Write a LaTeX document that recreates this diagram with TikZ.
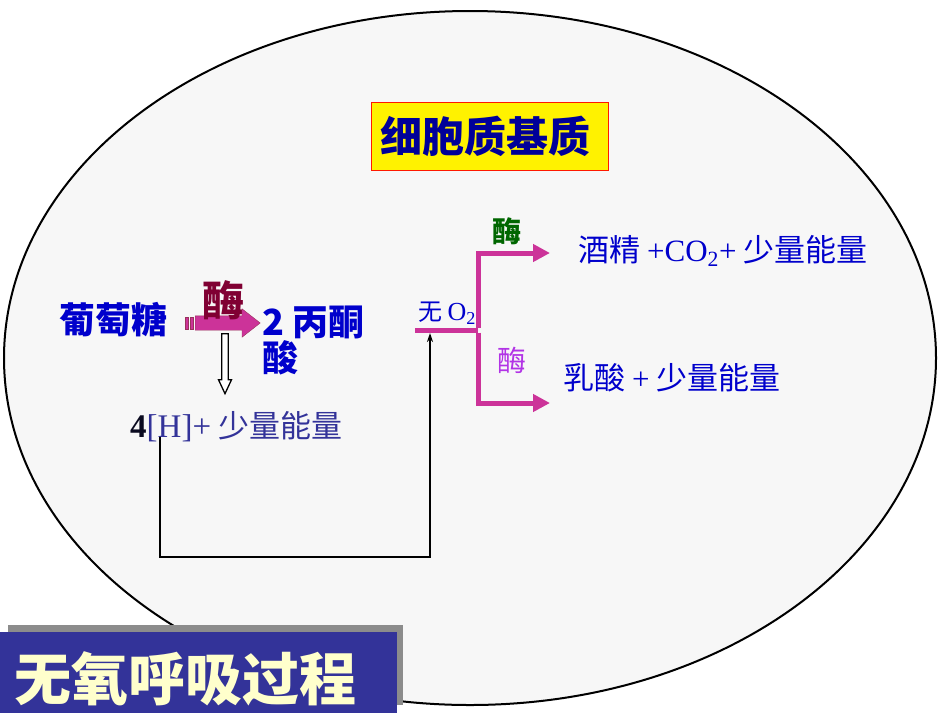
\documentclass[tikz,border=0pt]{standalone}
\usepackage{fontspec}
\setmainfont{Liberation Serif}
\newfontfamily\cjk{Noto Sans CJK SC}
\usetikzlibrary{shapes.arrows, arrows.meta, positioning}
\definecolor{txtblue}{RGB}{0,0,204}
\definecolor{navytxt}{RGB}{0,0,153}
\definecolor{indigotxt}{RGB}{51,51,153}
\definecolor{forkpink}{RGB}{204,51,153}
\definecolor{meired}{RGB}{128,0,51}
\definecolor{meigreen}{RGB}{0,102,0}
\definecolor{meiviolet}{RGB}{178,51,230}
\definecolor{titlenavy}{RGB}{51,51,153}
\definecolor{titlecream}{RGB}{255,255,204}
\definecolor{ovalgray}{RGB}{247,247,247}
\newcommand{\fsz}[1]{\fontsize{#1}{#1}\selectfont}
\tikzset{
    txt/.style={inner sep=0pt, anchor=west, text=txtblue, font=\cjk\fsz{31}},
    mei/.style={inner sep=0pt, font=\cjk\bfseries\fsz{29}},
    fatarrow/.style={single arrow, draw=meired!80, fill=forkpink, inner sep=7pt, minimum width=28pt, single arrow head extend=7pt, single arrow tip angle=76},
    openarrow/.style={single arrow, draw=black, line width=1.3pt, fill=white, inner sep=2.5pt, minimum width=13pt, single arrow head extend=3pt, single arrow tip angle=50},
    forkline/.style={line width=5pt, draw=forkpink},
    forkarrow/.style={forkline, -{Triangle[length=17pt, width=17pt]}},
    feedback/.style={line width=1.8pt, -{Stealth[length=9pt, width=6pt]}}
}
\begin{document}
\begin{tikzpicture}[x=1pt, y=-1pt]
    \useasboundingbox (0,0) rectangle (950,713);
    \draw[line width=2pt, fill=ovalgray] (470,358) ellipse [x radius=466, y radius=347];

    \node[draw=red!80!orange, thick, fill=yellow, text=navytxt, font=\cjk\bfseries\fsz{42}, text width=218pt, inner xsep=9.5pt, minimum height=68pt, align=left] (place) at (489.5,136) {细胞质基质};

    % glycolysis
    \node[txt, font=\cjk\bfseries\fsz{36}] (glu) at (59,320) {葡萄糖};
    \fill[forkpink, draw=meired!80] (185,317) rectangle (188,329) (190,317) rectangle (193,329);
    \node[fatarrow, minimum height=65pt, anchor=west] (step1) at (195,323) {};
    \node[mei, text=meired, font=\cjk\bfseries\fsz{42}] (mei1) at (223,300) {酶};
    \node[txt, font=\cjk\bfseries\fsz{36}, anchor=north west, align=left, inner sep=0pt] (pyr) at (262,306) {\fontsize{36}{47}\selectfont 2 丙酮\\酸};
    \node[openarrow, shape border rotate=270, minimum height=60pt, anchor=north] (step2) at (225,333) {};
    \node[txt, text=indigotxt] (nadh) at (130,427) {{\rmfamily\fsz{33}\bfseries\color{black!80!indigotxt}4}{\rmfamily\fsz{33}[H]+} 少量能量};

    % anaerobic fork
    \node[txt, font=\cjk\fsz{24}] (wuo2) at (418,313) {无 {\rmfamily\fsz{26}O\textsubscript{2}}};
    \coordinate (o2in) at (415,330);
    \coordinate (fork) at (478,330);
    \coordinate (jjtip) at (550,253);
    \coordinate (rstip) at (550,403);
    \draw[forkline] (o2in) -- (fork);
    \draw[forkarrow] ([yshift=2.5pt]fork) |- (jjtip);
    \draw[forkarrow] ([yshift=-2.5pt]fork) |- (rstip);
    \node[mei, text=meigreen] (mei2) at (507,231) {酶};
    \node[mei, text=meiviolet, font=\cjk\fsz{29}] (mei3) at (512,360) {酶};
    \node[txt] (jiujing) at (578,251) {酒精 {\rmfamily +CO\textsubscript{2}+} 少量能量};
    \node[txt] (rusuan) at (563,378) {乳酸 {\rmfamily +} 少量能量};

    % [H] back to the fork
    \coordinate (h0) at (160,437);
    \coordinate (hup) at (430,333);
    \draw[feedback] (h0) -- ++(0,120) -| (hup);

    % title
    \fill[gray!90] (8,625) rectangle (403,705);
    \fill[titlenavy] (0,632) rectangle (397,713);
    \node[inner sep=0pt, anchor=west, text=titlecream, font=\cjk\bfseries\fsz{57}] (title) at (14,679) {无氧呼吸过程};
\end{tikzpicture}
\end{document}
